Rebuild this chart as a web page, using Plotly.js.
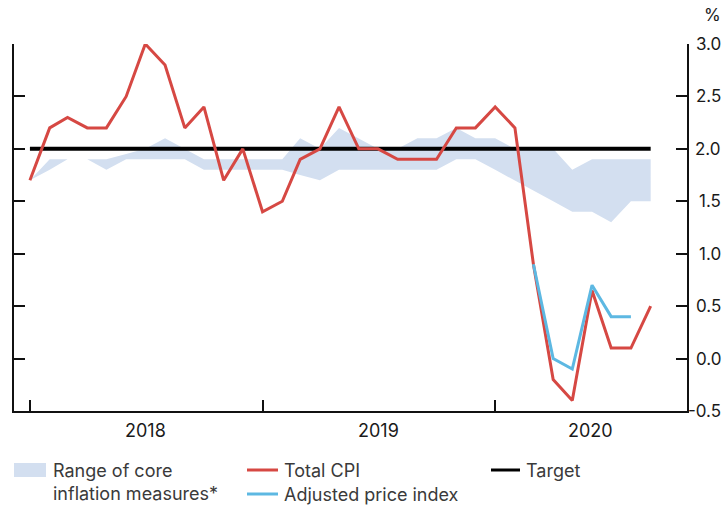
<!DOCTYPE html>
<html>
<head>
<meta charset="utf-8">
<script src="https://cdn.plot.ly/plotly-3.0.1.min.js"></script>
<style>
html,body{margin:0;padding:0;background:#fff;}
#chart{width:725px;height:506px;}
</style>
</head>
<body>
<div id="chart"></div>
<script>
// ---- data (monthly) ----
const months = [
  '2018-01-01','2018-02-01','2018-03-01','2018-04-01','2018-05-01','2018-06-01',
  '2018-07-01','2018-08-01','2018-09-01','2018-10-01','2018-11-01','2018-12-01',
  '2019-01-01','2019-02-01','2019-03-01','2019-04-01','2019-05-01','2019-06-01',
  '2019-07-01','2019-08-01','2019-09-01','2019-10-01','2019-11-01','2019-12-01',
  '2020-01-01','2020-02-01','2020-03-01','2020-04-01','2020-05-01','2020-06-01',
  '2020-07-01','2020-08-01','2020-09-01'
];
const totalCPI = [
  1.7, 2.2, 2.3, 2.2, 2.2, 2.5, 3.0, 2.8, 2.2, 2.4, 1.7, 2.0,
  1.4, 1.5, 1.9, 2.0, 2.4, 2.0, 2.0, 1.9, 1.9, 1.9, 2.2, 2.2,
  2.4, 2.2, 0.9, -0.2, -0.4, 0.65, 0.1, 0.1, 0.5
];
const adjustedIndex = [
  null, null, null, null, null, null, null, null, null, null, null, null,
  null, null, null, null, null, null, null, null, null, null, null, null,
  null, null, 0.9, 0.0, -0.1, 0.7, 0.4, 0.4, null
];
const coreLow = [
  1.7, 1.8, 1.9, 1.9, 1.8, 1.9, 1.9, 1.9, 1.9, 1.8, 1.8, 1.8,
  1.8, 1.8, 1.75, 1.7, 1.8, 1.8, 1.8, 1.8, 1.8, 1.8, 1.9, 1.9,
  1.8, 1.7, 1.6, 1.5, 1.4, 1.4, 1.3, 1.5, 1.5
];
const coreHigh = [
  1.7, 1.9, 1.9, 1.9, 1.9, 1.95, 2.0, 2.1, 2.0, 1.9, 1.9, 1.9,
  1.9, 1.9, 2.1, 2.0, 2.2, 2.1, 2.0, 2.0, 2.1, 2.1, 2.2, 2.1,
  2.1, 2.0, 2.0, 2.0, 1.8, 1.9, 1.9, 1.9, 1.9
];
const targetRate = 2.0;

const yearTicks = ['2018-01-01', '2019-01-01', '2020-01-01'];
const yearLabels = ['2018', '2019', '2020'];
const yTickVals = [-0.5, 0, 0.5, 1.0, 1.5, 2.0, 2.5, 3.0];
const yTickText = ['-0.5', '0.0', '0.5', '1.0', '1.5', '2.0', '2.5', '3.0'];
const unitLabel = '%';
const legendLabels = {
  band: 'Range of core<br>inflation measures*',
  cpi: 'Total CPI',
  adj: 'Adjusted price index',
  target: 'Target'
};
const xRange = ['2017-12-07', '2020-10-28'];
const yRange = [-0.5, 3.0];

// ---- styles ----
const C = {
  band: '#d3dff0',
  cpi: '#d64843',
  adj: '#5db8e2',
  target: '#000000',
  axis: '#111111',
  tick: '#1a1a1a',
  legend: '#3a3a3a'
};
const FONT = 'Inter, Roboto, "Liberation Sans", Arial, sans-serif';

const traces = [
  {x: months, y: coreLow, type: 'scatter', mode: 'lines', line: {width: 0, color: C.band},
   hoverinfo: 'skip', showlegend: false},
  {x: months, y: coreHigh, type: 'scatter', mode: 'lines', line: {width: 0, color: C.band},
   fill: 'tonexty', fillcolor: C.band, hoverinfo: 'skip', showlegend: false},
  {x: [months[0], months[months.length - 1]], y: [targetRate, targetRate], type: 'scatter',
   mode: 'lines', line: {width: 4, color: C.target}, showlegend: false},
  {x: months, y: totalCPI, type: 'scatter', mode: 'lines', line: {width: 3, color: C.cpi},
   showlegend: false},
  {x: months, y: adjustedIndex, type: 'scatter', mode: 'lines', line: {width: 3, color: C.adj},
   connectgaps: false, showlegend: false}
];

const annotations = [];
// right-hand tick labels (right aligned)
yTickVals.forEach((v, i) => {
  annotations.push({xref: 'paper', x: 1, xanchor: 'right', xshift: 36,
    yref: 'y', y: v, yanchor: 'middle', text: yTickText[i], showarrow: false,
    font: {family: FONT, size: 17, color: C.tick}});
});
annotations.push({xref: 'paper', x: 1, xanchor: 'right', xshift: 36,
  yref: 'paper', y: 1, yanchor: 'middle', yshift: 29, text: unitLabel, showarrow: false,
  font: {family: FONT, size: 17, color: C.tick}});
// year labels centred in the visible part of each year
const r0 = new Date(xRange[0]).getTime(), r1 = new Date(xRange[1]).getTime();
yearTicks.forEach((t, i) => {
  const a = Math.max(new Date(t).getTime(), r0);
  const b = i + 1 < yearTicks.length ? new Date(yearTicks[i + 1]).getTime() : r1;
  const mid = new Date((a + b) / 2).toISOString().slice(0, 10);
  annotations.push({xref: 'x', x: mid, xanchor: 'center', yref: 'paper', y: 0,
    yanchor: 'middle', yshift: -19, text: yearLabels[i], showarrow: false,
    font: {family: FONT, size: 18, color: C.tick}});
});
// legend texts
function legText(txt, dx, dy) {
  annotations.push({xref: 'paper', x: 0, xanchor: 'left', xshift: dx,
    yref: 'paper', y: 0, yanchor: 'middle', yshift: dy, text: txt, align: 'left',
    showarrow: false, font: {family: FONT, size: 18, color: C.legend}});
}
legText(legendLabels.band, 37, -71);
legText(legendLabels.cpi, 268, -59);
legText(legendLabels.adj, 268, -83);
legText(legendLabels.target, 510, -59);

const shapes = [
  {type: 'rect', xref: 'paper', xsizemode: 'pixel', xanchor: 0, x0: 0, x1: 32,
   yref: 'paper', ysizemode: 'pixel', yanchor: 0, y0: -52, y1: -66,
   fillcolor: C.band, line: {width: 0}},
  {type: 'line', xref: 'paper', xsizemode: 'pixel', xanchor: 0, x0: 233, x1: 264,
   yref: 'paper', ysizemode: 'pixel', yanchor: 0, y0: -59, y1: -59,
   line: {color: C.cpi, width: 3}},
  {type: 'line', xref: 'paper', xsizemode: 'pixel', xanchor: 0, x0: 233, x1: 264,
   yref: 'paper', ysizemode: 'pixel', yanchor: 0, y0: -83, y1: -83,
   line: {color: C.adj, width: 3}},
  {type: 'line', xref: 'paper', xsizemode: 'pixel', xanchor: 0, x0: 477, x1: 506,
   yref: 'paper', ysizemode: 'pixel', yanchor: 0, y0: -59, y1: -59,
   line: {color: C.target, width: 3}}
];

const axisCommon = {
  showgrid: false, zeroline: false, showline: true, linecolor: C.axis, linewidth: 2,
  ticks: 'inside', ticklen: 11, tickwidth: 2, tickcolor: C.axis, showticklabels: false,
  fixedrange: true
};

const layout = {
  width: 725, height: 506,
  margin: {l: 14, r: 38, t: 44, b: 95, pad: 0},
  paper_bgcolor: '#ffffff', plot_bgcolor: '#ffffff',
  showlegend: false,
  font: {family: FONT, size: 17, color: C.tick},
  xaxis: Object.assign({}, axisCommon, {type: 'date', range: xRange,
    tickmode: 'array', tickvals: yearTicks}),
  yaxis: Object.assign({}, axisCommon, {range: yRange, tickmode: 'array',
    tickvals: yTickVals, mirror: 'ticks'}),
  annotations: annotations,
  shapes: shapes
};

Plotly.newPlot('chart', traces, layout, {displayModeBar: false, staticPlot: true});
</script>
</body>
</html>
